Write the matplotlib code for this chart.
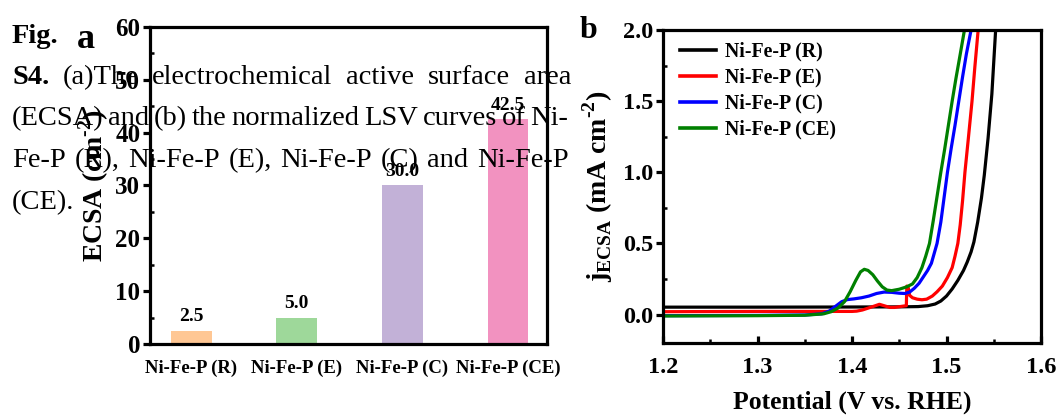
import matplotlib
matplotlib.use("Agg")
import matplotlib.pyplot as plt
from matplotlib.ticker import MultipleLocator

plt.rcParams['font.family'] = ['Liberation Serif', 'DejaVu Serif']
plt.rcParams['mathtext.fontset'] = 'custom'
plt.rcParams['mathtext.rm'] = 'Liberation Serif:bold'
plt.rcParams['mathtext.bf'] = 'Liberation Serif:bold'

# panel a: ECSA bars
samples = ['Ni-Fe-P (R)', 'Ni-Fe-P (E)', 'Ni-Fe-P (C)', 'Ni-Fe-P (CE)']
ecsa = [2.5, 5.0, 30.0, 42.5]
bar_colors = ['#ffc794', '#9ed89a', '#c2b1d7', '#f292c0']

# panel b: normalized LSV curves (potential V vs RHE, j_ECSA mA cm-2)
r_x = [1.20, 1.30, 1.40, 1.45, 1.47, 1.48, 1.488, 1.494, 1.50, 1.506, 1.512,
       1.518, 1.522, 1.526, 1.529, 1.533, 1.537, 1.540, 1.544, 1.548, 1.552]
r_y = [0.052, 0.052, 0.053, 0.054, 0.056, 0.062, 0.074, 0.095, 0.13, 0.18, 0.24,
       0.31, 0.37, 0.44, 0.51, 0.65, 0.82, 0.98, 1.24, 1.55, 2.0]

e_x = [1.20, 1.30, 1.38, 1.40, 1.405, 1.411, 1.417, 1.422, 1.429, 1.434, 1.44,
       1.445, 1.450, 1.455, 1.4575, 1.458, 1.4595, 1.461, 1.464, 1.469, 1.474,
       1.479, 1.485, 1.490, 1.4956, 1.501, 1.506, 1.509, 1.512, 1.5145, 1.517,
       1.5195, 1.523, 1.527, 1.530, 1.5335]
e_y = [0.020, 0.022, 0.022, 0.022, 0.024, 0.032, 0.045, 0.056, 0.072, 0.062, 0.050,
       0.050, 0.055, 0.060, 0.062, 0.20, 0.19, 0.135, 0.118, 0.108, 0.104,
       0.108, 0.13, 0.16, 0.20, 0.26, 0.33, 0.41, 0.50, 0.63, 0.80,
       1.0, 1.23, 1.5, 1.74, 2.0]

c_x = [1.20, 1.30, 1.35, 1.368, 1.376, 1.383, 1.389, 1.395, 1.402, 1.41, 1.418,
       1.426, 1.434, 1.442, 1.45, 1.456, 1.461, 1.466, 1.471, 1.476, 1.480,
       1.484, 1.487, 1.490, 1.494, 1.497, 1.501, 1.505, 1.509, 1.513, 1.517,
       1.521, 1.526]
c_y = [-0.008, -0.006, -0.003, 0.005, 0.025, 0.06, 0.09, 0.105, 0.11, 0.118, 0.13,
       0.148, 0.158, 0.156, 0.150, 0.148, 0.158, 0.185, 0.22, 0.27, 0.31,
       0.36, 0.43, 0.50, 0.65, 0.80, 1.0, 1.17, 1.33, 1.5, 1.67,
       1.83, 2.0]

ce_x = [1.20, 1.30, 1.35, 1.37, 1.378, 1.385, 1.392, 1.398, 1.404, 1.409, 1.413,
        1.417, 1.422, 1.427, 1.432, 1.437, 1.442, 1.45, 1.458, 1.464, 1.469,
        1.474, 1.478, 1.482, 1.486, 1.490, 1.494, 1.498, 1.502, 1.506, 1.510,
        1.514, 1.519]
ce_y = [-0.01, -0.008, -0.005, 0.005, 0.02, 0.045, 0.09, 0.16, 0.24, 0.30, 0.318,
        0.31, 0.28, 0.235, 0.195, 0.172, 0.168, 0.178, 0.195, 0.215, 0.26,
        0.33, 0.41, 0.50, 0.66, 0.83, 1.0, 1.16, 1.33, 1.5, 1.66,
        1.81, 2.0]

W, H = 1060, 419
fig = plt.figure(figsize=(W / 100, H / 100), dpi=100)

def box(x0, y0, x1, y1):
    return [x0 / W, 1 - y1 / H, (x1 - x0) / W, (y1 - y0) / H]

lw_sp = 2.3
sup = '$^{\\mathrm{\u2010}2}$'

# ---- panel a
ax1 = fig.add_axes(box(150, 27, 547, 344))
ax1.bar(range(4), ecsa, width=0.385, color=bar_colors)
for i, v in enumerate(ecsa):
    ax1.annotate('%.1f' % v, (i, v), xytext=(0, 4), textcoords='offset points',
                 ha='center', va='bottom', fontsize=14, fontweight='bold')
ax1.set_xlim(-0.39, 3.37)
ax1.set_ylim(0, 60)
ax1.set_xticks(range(4))
ax1.set_xticklabels(samples, fontsize=13.5, fontweight='bold')
ax1.tick_params(axis='x', length=0, pad=11)
ax1.yaxis.set_major_locator(MultipleLocator(10))
ax1.yaxis.set_minor_locator(MultipleLocator(5))
ax1.tick_params(axis='y', which='major', direction='out', length=5, width=lw_sp,
                labelsize=18, pad=2)
ax1.tick_params(axis='y', which='minor', direction='in', length=3, width=1.8)
for t in ax1.get_yticklabels():
    t.set_fontweight('bold')
ax1.set_ylabel('ECSA (cm' + sup + ')', fontsize=20, fontweight='bold', labelpad=3)
for s in ax1.spines.values():
    s.set_linewidth(lw_sp)

# ---- panel b
ax2 = fig.add_axes(box(663, 30, 1041, 343))
ax2.plot(r_x, r_y, color='black', lw=2.3, label='Ni-Fe-P (R)')
ax2.plot(e_x, e_y, color='#ff0000', lw=2.3, label='Ni-Fe-P (E)')
ax2.plot(c_x, c_y, color='#0000ff', lw=2.3, label='Ni-Fe-P (C)')
ax2.plot(ce_x, ce_y, color='#008000', lw=2.3, label='Ni-Fe-P (CE)')
ax2.xaxis.set_major_locator(MultipleLocator(0.1))
ax2.xaxis.set_minor_locator(MultipleLocator(0.05))
ax2.yaxis.set_major_locator(MultipleLocator(0.5))
ax2.yaxis.set_minor_locator(MultipleLocator(0.25))
ax2.tick_params(axis='x', which='major', direction='in', length=5, width=lw_sp,
                labelsize=17.5, pad=10)
ax2.tick_params(axis='x', which='minor', direction='in', length=3, width=1.8)
ax2.tick_params(axis='y', which='major', direction='out', length=5, width=lw_sp,
                labelsize=17.5, pad=2)
ax2.tick_params(axis='y', which='minor', direction='in', length=3, width=1.8)
xt = [1.2, 1.3, 1.4, 1.5, 1.6]
yt = [0.0, 0.5, 1.0, 1.5, 2.0]
ax2.set_xticks(xt)
ax2.set_xticklabels(['%.1f' % v for v in xt], fontweight='bold')
ax2.set_yticks(yt)
ax2.set_yticklabels(['%.1f' % v for v in yt], fontweight='bold')
ax2.set_xlim(1.2, 1.6)
ax2.set_ylim(-0.2, 2.0)
ax2.set_xlabel('Potential (V vs. RHE)', fontsize=18.5, fontweight='bold', labelpad=9)
ax2.set_ylabel(r'j$_{\mathrm{ECSA}}$ (mA cm' + sup + ')', fontsize=20, fontweight='bold',
               labelpad=6)
for s in ax2.spines.values():
    s.set_linewidth(lw_sp)
leg = ax2.legend(loc='upper left', bbox_to_anchor=(0.045, 0.962), frameon=False,
                 borderpad=0, borderaxespad=0, handlelength=1.8, handletextpad=0.45,
                 labelspacing=0.3, prop={'weight': 'bold', 'size': 14.3})
for ln in leg.get_lines():
    ln.set_linewidth(2.6)

# panel letters
fig.text(77 / W, 1 - 48 / H, 'a', fontsize=26, fontweight='bold', va='baseline')
fig.text(580 / W, 1 - 38 / H, 'b', fontsize=23, fontweight='bold', va='baseline')

# caption text (justified, as in the source page)
fig.canvas.draw()
rend = fig.canvas.get_renderer()
cap_size = 20.5

def put_line(words, y, x0, x1=None):
    arts = []
    for w, wt in words:
        t = fig.text(0, 1 - y / H, w, fontsize=cap_size, fontweight=wt, va='baseline')
        arts.append(t)
    widths = [a.get_window_extent(rend).width for a in arts]
    if x1 is None or len(arts) < 2:
        gap = 0.25 * cap_size * 100 / 72
    else:
        gap = (x1 - x0 - sum(widths)) / (len(arts) - 1)
    x = x0
    for a, wd in zip(arts, widths):
        a.set_x(x / W)
        x += wd + gap

put_line([('Fig.', 'bold')], 43, 12)
put_line([('S4.', 'bold'), ('(a)The', 'normal'), ('electrochemical', 'normal'),
          ('active', 'normal'), ('surface', 'normal'), ('area', 'normal')], 84, 12, 571)
put_line([(w, 'normal') for w in '(ECSA) and (b) the normalized LSV curves of Ni-'.split()],
         125, 12, 568)
put_line([(w, 'normal') for w in 'Fe-P (R), Ni-Fe-P (E), Ni-Fe-P (C) and Ni-Fe-P'.split()],
         167, 12, 569)
put_line([('(CE).', 'normal')], 209, 12)

fig.savefig('out.png', dpi=100)
